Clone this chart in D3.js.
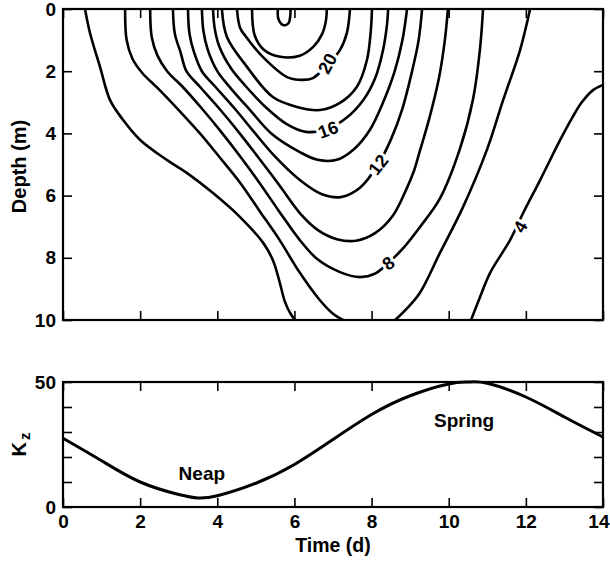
<!DOCTYPE html>
<html>
<head>
<meta charset="utf-8">
<script src="https://cdn.jsdelivr.net/npm/d3@7"></script>
<style>
  body { margin: 0; background: #fff; }
  text { font-family: "Liberation Sans", Arial, sans-serif; fill: #000; }
</style>
</head>
<body>
<svg id="chart" width="610" height="563"></svg>
<script>
// tick values
const timeTicks = [0, 2, 4, 6, 8, 10, 12, 14]
const depthTicks = [0, 2, 4, 6, 8, 10]
const kzTicks = [0, 10, 20, 30, 40, 50]
const kzTickLabels = [0, 50]

// contour lines, [time (d), depth (m)]
const c4left = [[0.57,0],[0.7,0.77],[0.96,1.86],[1.22,2.93],[1.56,3.57],[2.0,4.21],[2.7,4.86],[3.21,5.27],[3.89,5.92],[4.59,6.69],[5.19,7.52],[5.45,8.1],[5.62,8.8],[5.75,9.4],[5.9,9.8],[6.02,10]]
const c4right = [[14,2.44],[13.75,2.6],[13.45,3.0],[13.2,3.5],[12.89,4.21],[12.37,5.5],[11.93,6.56],[11.59,7.43],[11.07,8.49],[10.8,9.3],[10.58,10]]
const c6left = [[1.61,0],[1.65,1.0],[1.8,1.6],[2.05,2.05],[2.5,2.6],[3.0,3.25],[3.55,4.0],[4.05,4.75],[4.6,5.6],[5.1,6.5],[5.6,7.4],[6.15,8.5],[6.65,9.35],[7.0,9.8],[7.26,10]]
const c6right = [[12.11,0],[11.85,1.32],[11.41,2.93],[10.99,4.53],[10.37,6.37],[9.77,7.85],[9.25,9.13],[8.9,9.65],[8.61,10]]
const c8 = [[2.26,0],[2.3,0.9],[2.45,1.5],[2.7,2.0],[3.1,2.5],[3.6,3.2],[4.1,3.95],[4.6,4.75],[5.1,5.6],[5.6,6.5],[6.14,7.43],[6.6,8.05],[7.18,8.46],[7.7,8.62],[8.1,8.5],[8.43,8.17],[8.85,7.65],[9.26,7.0],[9.77,6.1],[10.29,4.5],[10.63,2.9],[10.81,1.3],[10.89,0]]
const c10 = [[2.85,0],[2.9,0.8],[3.05,1.4],[3.2,2.0],[3.55,2.5],[4.05,3.2],[4.55,3.95],[5.05,4.75],[5.6,5.65],[6.14,6.56],[6.6,7.1],[7.1,7.4],[7.6,7.45],[8.1,7.2],[8.55,6.65],[8.9,5.8],[9.1,5.2],[9.26,4.53],[9.5,3.5],[9.75,2.2],[9.9,1.0],[9.98,0]]
const c12 = [[3.24,0],[3.28,0.8],[3.4,1.4],[3.6,2.0],[3.95,2.5],[4.45,3.2],[4.95,3.95],[5.5,4.75],[6.14,5.5],[6.7,5.95],[7.2,6.05],[7.7,5.75],[8.17,5.0],[8.5,4.2],[8.8,3.2],[9.05,2.0],[9.22,1.0],[9.31,0]]
const c14 = [[3.6,0],[3.64,0.7],[3.75,1.3],[4.0,2.0],[4.35,2.55],[4.85,3.25],[5.4,4.0],[6.14,4.6],[6.6,4.85],[7.1,4.85],[7.55,4.5],[7.95,3.9],[8.3,3.0],[8.6,2.0],[8.8,1.0],[8.92,0]]
const c16 = [[3.89,0],[3.93,0.6],[4.05,1.2],[4.35,1.9],[4.75,2.5],[5.25,3.15],[5.8,3.7],[6.3,3.95],[6.87,3.85],[7.35,3.5],[7.8,2.9],[8.1,2.2],[8.3,1.3],[8.4,0.5],[8.43,0]]
const c18 = [[4.12,0],[4.25,0.9],[4.77,1.86],[5.44,2.83],[6.07,3.15],[6.66,3.25],[7.18,3.02],[7.62,2.5],[7.88,1.64],[7.98,0.7],[8.01,0]]
const c20 = [[4.51,0],[4.59,0.6],[4.75,0.9],[5.18,1.54],[5.81,2.19],[6.22,2.28],[6.48,2.22],[6.85,1.8],[7.18,1.32],[7.36,0.77],[7.44,0]]
const c22 = [[4.9,0],[4.97,0.85],[5.2,1.3],[5.6,1.53],[6.14,1.5],[6.5,1.2],[6.72,0.8],[6.82,0.35],[6.84,0]]
const c24 = [[5.57,0],[5.58,0.3],[5.66,0.48],[5.76,0.52],[5.85,0.45],[5.89,0.25],[5.9,0]]

const contours = [c4left, c4right, c6left, c6right, c8, c10, c12, c14, c16, c18, c20, c22, c24]

// contour labels: text, time, depth, angle
const labelText = ['20', '16', '12', '8', '4']
const labelTime = [6.85, 6.87, 8.17, 8.43, 11.85]
const labelDepth = [1.75, 3.87, 5.0, 8.17, 7.0]
const labelAngle = [-62, -20, -52, -38, -60]

// Kz over the spring-neap cycle
const kzTime = [0, 1, 2, 3, 3.5, 4, 5, 6, 7, 8, 9, 10, 10.5, 11, 12, 13, 14]
const kzValue = [27.5, 18.5, 10, 5, 3.6, 4.5, 9.5, 17, 27, 37, 44.5, 49.2, 50, 49.5, 44, 36, 28]

const svg = d3.select('#chart')

const left = 63, right = 603
const topY0 = 9, topY1 = 320
const botY0 = 382, botY1 = 507
const tickLen = 9

const x = d3.scaleLinear().domain([0, 14]).range([left, right])
const yDepth = d3.scaleLinear().domain([0, 10]).range([topY0, topY1])
const yKz = d3.scaleLinear().domain([0, 50]).range([botY1, botY0])

function styleAxis(g) {
  g.select('.domain').remove()
  g.selectAll('.tick line').attr('stroke', '#000').attr('stroke-width', 1.6)
  g.selectAll('.tick text')
    .attr('font-size', 19)
    .attr('font-weight', 'bold')
    .attr('fill', '#000')
    .attr('font-family', '"Liberation Sans", Arial, sans-serif')
}

// ---- top panel ----
svg.append('defs').append('clipPath').attr('id', 'clipTop')
  .append('rect')
  .attr('x', left).attr('y', topY0)
  .attr('width', right - left).attr('height', topY1 - topY0)

const line = d3.line()
  .x(d => x(d[0]))
  .y(d => yDepth(d[1]))
  .curve(d3.curveCatmullRom.alpha(0.5))

svg.append('g')
  .attr('clip-path', 'url(#clipTop)')
  .selectAll('path')
  .data(contours)
  .enter()
  .append('path')
  .attr('d', line)
  .attr('fill', 'none')
  .attr('stroke', '#000')
  .attr('stroke-width', 2.6)
  .attr('stroke-linejoin', 'round')

svg.append('g')
  .selectAll('text')
  .data(labelText)
  .enter()
  .append('text')
  .attr('transform', (d, i) => `translate(${x(labelTime[i])},${yDepth(labelDepth[i])}) rotate(${labelAngle[i]})`)
  .attr('text-anchor', 'middle')
  .attr('dy', '0.36em')
  .attr('font-size', 18)
  .attr('font-weight', 'bold')
  .attr('stroke', '#fff')
  .attr('stroke-width', 6)
  .attr('paint-order', 'stroke')
  .text(d => d)

svg.append('g')
  .attr('transform', `translate(${left},0)`)
  .call(d3.axisLeft(yDepth).tickValues(depthTicks).tickSizeInner(-tickLen).tickSizeOuter(0).tickPadding(7))
  .call(styleAxis)

svg.append('g')
  .attr('transform', `translate(${right},0)`)
  .call(d3.axisRight(yDepth).tickValues(depthTicks).tickSizeInner(-tickLen).tickSizeOuter(0).tickFormat(''))
  .call(styleAxis)

svg.append('g')
  .attr('transform', `translate(0,${topY1})`)
  .call(d3.axisBottom(x).tickValues(timeTicks).tickSizeInner(-tickLen).tickSizeOuter(0).tickFormat(''))
  .call(styleAxis)

svg.append('g')
  .attr('transform', `translate(0,${topY0})`)
  .call(d3.axisTop(x).tickValues(timeTicks).tickSizeInner(-tickLen).tickSizeOuter(0).tickFormat(''))
  .call(styleAxis)

svg.append('rect')
  .attr('x', left).attr('y', topY0)
  .attr('width', right - left).attr('height', topY1 - topY0)
  .attr('fill', 'none').attr('stroke', '#000').attr('stroke-width', 2.2)

svg.append('text')
  .attr('transform', `translate(26,${(topY0 + topY1) / 2 + 2}) rotate(-90)`)
  .attr('text-anchor', 'middle')
  .attr('font-size', 20)
  .attr('font-weight', 'bold')
  .text('Depth (m)')

// ---- bottom panel ----
const kzLine = d3.line()
  .x((d, i) => x(kzTime[i]))
  .y(d => yKz(d))
  .curve(d3.curveNatural)

svg.append('path')
  .datum(kzValue)
  .attr('d', kzLine)
  .attr('fill', 'none')
  .attr('stroke', '#000')
  .attr('stroke-width', 3)

svg.append('g')
  .attr('transform', `translate(${left},0)`)
  .call(d3.axisLeft(yKz).tickValues(kzTicks).tickSizeInner(-tickLen).tickSizeOuter(0).tickPadding(7)
    .tickFormat(d => kzTickLabels.includes(d) ? d : ''))
  .call(styleAxis)

svg.append('g')
  .attr('transform', `translate(${right},0)`)
  .call(d3.axisRight(yKz).tickValues(kzTicks).tickSizeInner(-tickLen).tickSizeOuter(0).tickFormat(''))
  .call(styleAxis)

svg.append('g')
  .attr('transform', `translate(0,${botY1})`)
  .call(d3.axisBottom(x).tickValues(timeTicks).tickSizeInner(-tickLen).tickSizeOuter(0).tickPadding(8))
  .call(styleAxis)
  .call(g => g.selectAll('.tick text').filter(d => d === 14).attr('text-anchor', 'end').attr('dx', 6))

svg.append('g')
  .attr('transform', `translate(0,${botY0})`)
  .call(d3.axisTop(x).tickValues(timeTicks).tickSizeInner(-tickLen).tickSizeOuter(0).tickFormat(''))
  .call(styleAxis)

svg.append('rect')
  .attr('x', left).attr('y', botY0)
  .attr('width', right - left).attr('height', botY1 - botY0)
  .attr('fill', 'none').attr('stroke', '#000').attr('stroke-width', 2.2)

svg.append('text')
  .attr('x', x(3.6)).attr('y', yKz(11))
  .attr('text-anchor', 'middle')
  .attr('font-size', 19)
  .attr('font-weight', 'bold')
  .text('Neap')

svg.append('text')
  .attr('x', x(10.4)).attr('y', yKz(32))
  .attr('text-anchor', 'middle')
  .attr('font-size', 19)
  .attr('font-weight', 'bold')
  .text('Spring')

const kzTitle = svg.append('text')
  .attr('transform', `translate(26,${(botY0 + botY1) / 2}) rotate(-90)`)
  .attr('text-anchor', 'middle')
  .attr('font-size', 20)
  .attr('font-weight', 'bold')
kzTitle.append('tspan').text('K')
kzTitle.append('tspan').attr('font-size', 15).attr('dx', 2).attr('dy', 4).text('z')

svg.append('text')
  .attr('x', (left + right) / 2)
  .attr('y', 552)
  .attr('text-anchor', 'middle')
  .attr('font-size', 19.5)
  .attr('font-weight', 'bold')
  .text('Time (d)')
</script>
</body>
</html>
